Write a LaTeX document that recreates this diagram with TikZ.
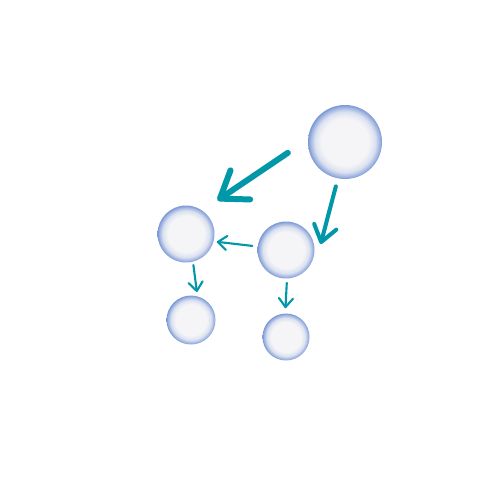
\documentclass[tikz,border=0pt]{standalone}
\usepackage{xcolor}
\usepackage{tikz}
\usetikzlibrary{arrows.meta}
\definecolor{AzulBurbuja}{RGB}{122,152,214}
\definecolor{GrisCentro}{RGB}{245,245,247}
\definecolor{TurquesaFlecha}{RGB}{0,151,168}
\pgfdeclareradialshading{burbuja}{\pgfpoint{0bp}{0bp}}{color(0bp)=(GrisCentro); color(16bp)=(GrisCentro); color(20.5bp)=(AzulBurbuja!22!GrisCentro); color(23.5bp)=(AzulBurbuja!70!GrisCentro); color(25bp)=(AzulBurbuja); color(50bp)=(AzulBurbuja)}
\tikzset{
  burb/.style={circle,inner sep=0pt,shade,shading=burbuja,minimum size=#1},
  flecha/.style={TurquesaFlecha,line cap=round,line join=round}
}

\begin{document}
\begin{tikzpicture}[x=0.02cm,y=-0.02cm]
  \useasboundingbox (0,0) rectangle (500,500);
  % burbujas
  \node[burb=1.48cm] (A) at (345,142) {};
  \node[burb=1.14cm] (B) at (186,234) {};
  \node[burb=1.14cm] (C) at (286,250) {};
  \node[burb=0.98cm] (D) at (191,320) {};
  \node[burb=0.94cm] (E) at (286,337) {};
  % flechas gruesas
  \draw[flecha,line width=3.4pt,-{Straight Barb[length=14pt,width=20pt,round]},
    shorten <=0.48cm,shorten >=0.36cm] (A.176) -- (B.55);
  \draw[flecha,line width=2.3pt,-{Straight Barb[length=9pt,width=13pt,round]},
    shorten <=0.16cm,shorten >=0.02cm] (A.259) -- ([xshift=0.12cm]C.10);
  % flechas finas
  \draw[flecha,line width=1.2pt,-{Straight Barb[length=5pt,width=8pt,round]},
    shorten <=0.1cm,shorten >=0.06cm] (C.173) -- (B.345);
  \draw[flecha,line width=1.2pt,-{Straight Barb[length=5pt,width=8pt,round]},
    shorten <=0.06cm,shorten >=0.08cm] (B.284) -- (D.75);
  \draw[flecha,line width=1.2pt,-{Straight Barb[length=5pt,width=8pt,round]},
    shorten <=0.08cm,shorten >=0.1cm] (C.272) -- (E.92);
\end{tikzpicture}
\end{document}
